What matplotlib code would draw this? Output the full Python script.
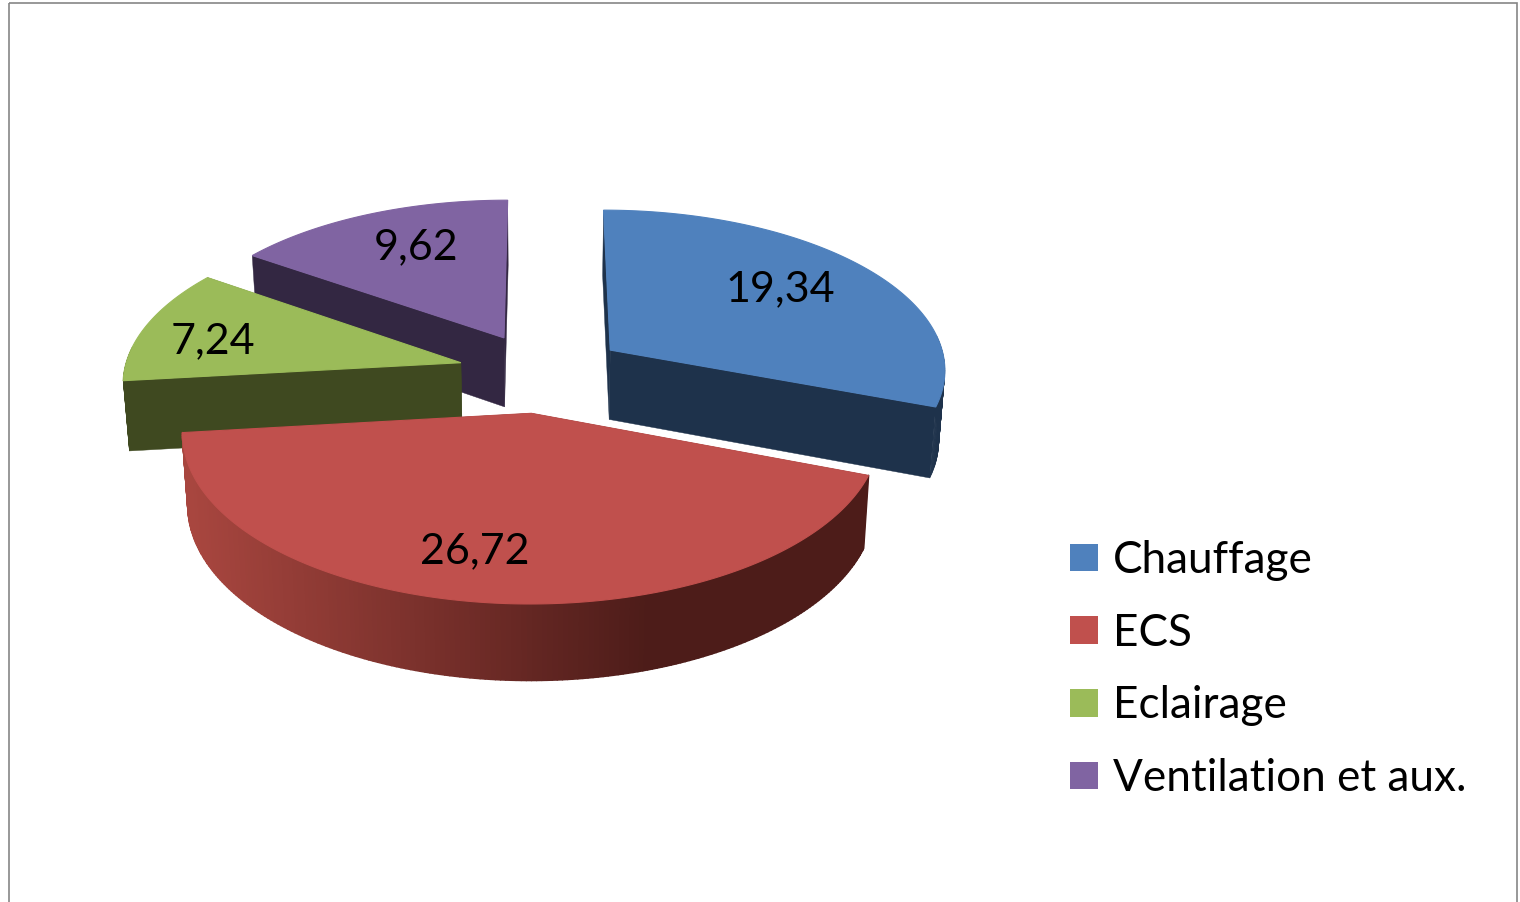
import numpy as np
import matplotlib
matplotlib.use("Agg")
import matplotlib.pyplot as plt
from matplotlib.collections import PolyCollection
from matplotlib.colors import to_rgb
from matplotlib.patches import Patch, Polygon, Rectangle

# --- data ---
categories = ["Chauffage", "ECS", "Eclairage", "Ventilation et aux."]
values = [19.34, 26.72, 7.24, 9.62]
value_labels = ["19,34", "26,72", "7,24", "9,62"]

# --- style ---
top_colors = ["#4f81bd", "#c0504d", "#9bbb59", "#8064a2"]
wall_colors = ["#1e324b", "#4d1c19", "#3f4920", "#332742"]
grad_left, grad_right = "#a8463f", "#4d1c19"
label_offsets = [(170, -61), (-57, 138), (-248, -22), (-88, -91)]
EXPLODE, CX, CY, AX_X, AX_Y, K, DEPTH, SHRINK = 0.25, 542, 372.5, 337, 160, 0.11, 70, 0.985
FS_LABEL = 31
FS_LEGEND = 31.8

plt.rcParams["font.family"] = ["Lato", "DejaVu Sans"]
fig = plt.figure(figsize=(15.2, 9.02), dpi=100)
ax = fig.add_axes([0, 0, 1, 1])
ax.set_xlim(0, 1520)
ax.set_ylim(902, 0)
ax.axis("off")
ax.add_patch(Rectangle((9, 3), 1508, 960, fill=False, ec="#868686", lw=1.2))


def top_pt(X, Y):
    s = 1 / (1 + K * Y)
    return CX + AX_X * X * s, CY - AX_Y * Y * s


def bot_pt(X, Y):
    s = 1 / (1 + K * Y)
    x, y = top_pt(X, Y)
    return CX + (x - CX) * SHRINK, y + DEPTH * s ** 0.6


def slice_xy(th, ox, oy):
    return ox + np.sin(th), oy + np.cos(th)


fractions = np.array(values) / np.sum(values)
edges = np.concatenate([[0], np.cumsum(fractions)]) * 2 * np.pi
slices = []
for i in range(len(values)):
    a0, a1 = edges[i], edges[i + 1]
    mid = (a0 + a1) / 2
    ox, oy = EXPLODE * np.sin(mid), EXPLODE * np.cos(mid)
    slices.append((i, a0, a1, ox, oy))

# back to front painting: far slices first
order = sorted(slices, key=lambda t: -t[4])
for i, a0, a1, ox, oy in order:
    ths = np.linspace(a0, a1, 200)
    X, Y = slice_xy(ths, ox, oy)
    # radial walls
    for a in sorted([a0, a1], key=lambda a: -slice_xy(a, ox, oy)[1]):
        Xe, Ye = slice_xy(a, ox, oy)
        quad = [top_pt(ox, oy), top_pt(Xe, Ye), bot_pt(Xe, Ye), bot_pt(ox, oy)]
        ax.add_patch(Polygon(quad, closed=True, fc=wall_colors[i], ec=wall_colors[i], lw=0.3))
    # outer wall: only the part that faces the viewer
    quads, cols = [], []
    gl, gr = np.array(to_rgb(grad_left)), np.array(to_rgb(grad_right))
    for j in range(len(ths) - 1):
        if np.cos(ths[j]) > 0.1:
            continue
        q = [top_pt(X[j], Y[j]), top_pt(X[j + 1], Y[j + 1]),
             bot_pt(X[j + 1], Y[j + 1]), bot_pt(X[j], Y[j])]
        quads.append(q)
        if i == 1:
            t = np.clip((q[0][0] - 190) / (650 - 190), 0, 1)
            cols.append(gl + (gr - gl) * t)
        else:
            cols.append(to_rgb(wall_colors[i]))
    if quads:
        ax.add_collection(PolyCollection(quads, facecolors=cols, edgecolors=cols,
                                         linewidths=1.2 if i == 1 else 0.3))
    # top face
    pts = [top_pt(ox, oy)] + [top_pt(x, y) for x, y in zip(X, Y)]
    ax.add_patch(Polygon(pts, closed=True, fc=top_colors[i], ec=top_colors[i], lw=0.8))

for i, a0, a1, ox, oy in slices:
    px, py = top_pt(ox, oy)
    dx, dy = label_offsets[i]
    ax.text(px + dx, py + dy, value_labels[i], ha="center", va="center",
            fontsize=FS_LABEL, color="black")

handles = [Patch(facecolor=c, edgecolor="none", label=l) for c, l in zip(top_colors, categories)]
ax.legend(handles=handles, loc="upper left", bbox_to_anchor=(1070, 540),
          bbox_transform=ax.transData, frameon=False, fontsize=FS_LEGEND, borderpad=0,
          borderaxespad=0, handlelength=0.634, handleheight=0.59, handletextpad=0.34,
          labelspacing=0.717, labelcolor="black")

fig.savefig("out.png", dpi=100, facecolor="white")
